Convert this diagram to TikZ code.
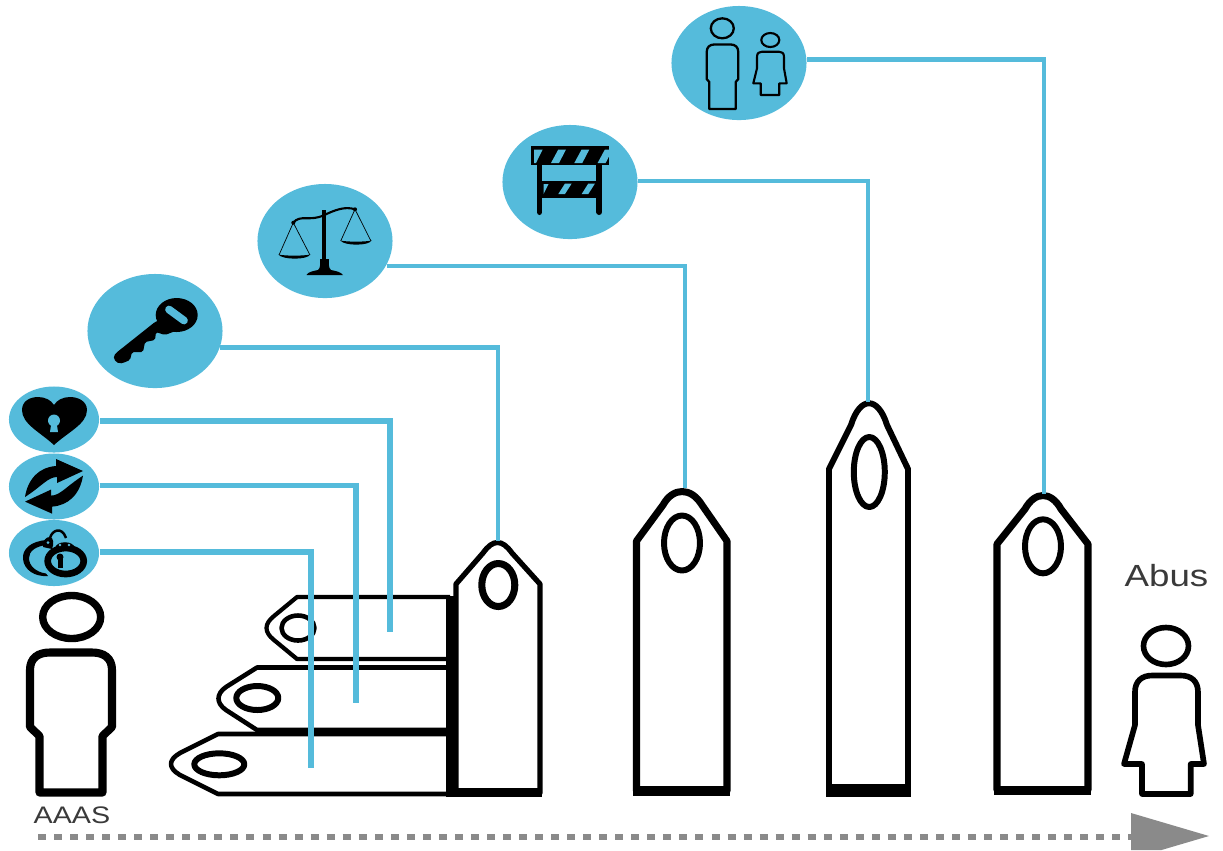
\documentclass[tikz,border=0pt]{standalone}
\usepackage{fontspec}
\setmainfont{Liberation Sans}[FakeStretch=1.2]
\definecolor{blob}{HTML}{55BBDB}
\definecolor{ashen}{HTML}{8A8A8A}
\definecolor{inklabel}{HTML}{3A3A3A}
\usetikzlibrary{shapes.geometric}
\tikzset{
  iconblob/.style={ellipse, fill=blob, inner sep=0pt, minimum width=1.35cm, minimum height=1.14cm},
  smallblob/.style={ellipse, fill=blob, inner sep=0pt, minimum width=0.9cm, minimum height=0.66cm},
  link/.style={draw=blob, line width=1.25pt},
  tagline/.style={draw=black, line width=#1, line join=round},
  tagline/.default=1.7pt,
}

\begin{document}
\begin{tikzpicture}[x=0.01cm, y=-0.01cm]
\useasboundingbox (0,0) rectangle (1223,850);

% Lying tags
\draw[tagline=1.2pt] (450,597) -- (297,597) -- (274,616) .. controls (264,624) and (264,632) .. (274,640) -- (297,659) -- (450,659);
\draw[tagline=1.3pt] (298,628) circle [x radius=16.5, y radius=12.5];
\draw[tagline=1.3pt] (450,667.5) -- (257,667.5) -- (226,687) .. controls (216,694) and (216,703) .. (226,710) -- (257,730) -- (450,730);
\draw[tagline=1.7pt] (257.3,698) circle [x radius=21, y radius=12];
\draw[tagline=1.3pt] (450,734) -- (218,734) -- (180,753) .. controls (168,760) and (168,768) .. (180,775) -- (218,794) -- (450,794);
\draw[tagline=1.7pt] (219.3,764.3) circle [x radius=25, y radius=11];
\fill (446,596) rectangle (457,797);

% Standing tags
\draw[tagline=1.5pt] (456,793) -- (456,584) -- (483,553) .. controls (493,539) and (502,539) .. (512,553) -- (540,584) -- (540,793) -- cycle;
\fill (453,788) rectangle (542,797);
\draw[tagline=2pt] (498.3,585) circle [x radius=16.5, y radius=21.5];

\draw[tagline=2pt] (636.5,791) -- (636.5,541) -- (663,505) .. controls (673,487) and (691,487) .. (702,505) -- (727,541) -- (727,791) -- cycle;
\fill (633,786) rectangle (730,796);
\draw[tagline=1.7pt] (682,543) circle [x radius=18, y radius=27.5];

\draw[tagline=1.7pt] (829,790) -- (829,469) -- (851,425) .. controls (860,396) and (878,396) .. (887,425) -- (908,469) -- (908,790) -- cycle;
\fill (826,784) rectangle (911,797);
\draw[tagline=1.7pt] (869.3,472) circle [x radius=15.5, y radius=35];

\draw[tagline=2pt] (997,790) -- (997,544) -- (1025,509) .. controls (1035,491) and (1051,491) .. (1061,509) -- (1088,544) -- (1088,790) -- cycle;
\fill (994,786) rectangle (1091,795);
\draw[tagline=1.7pt] (1043,546.3) circle [x radius=18, y radius=27];

% Blue blobs
\node[smallblob] (heartblob) at (54,419.5) {};
\node[smallblob] (swapblob) at (54,486.5) {};
\node[smallblob] (cuffblob) at (54,553) {};
\node[iconblob] (keyblob) at (155,331) {};
\node[iconblob] (scaleblob) at (325,241) {};
\node[iconblob] (fenceblob) at (570,182) {};
\node[iconblob] (coupleblob) at (739,63) {};

% Connector ends
\coordinate (tagheart) at (390,632);
\coordinate (tagswap) at (356,703);
\coordinate (tagcuff) at (311,768);
\coordinate (tagkey) at (498,541);
\coordinate (tagscale) at (685,488);
\coordinate (tagfence) at (868,402);
\coordinate (tagcouple) at (1044,494);

\draw[link, line width=1.5pt] (heartblob.-2.5) -| (tagheart);
\draw[link, line width=1.5pt] (swapblob.1.3) -| (tagswap);
\draw[link, line width=1.6pt] (cuffblob.1) -| (tagcuff);
\draw[link] (keyblob.-14.7) -| (tagkey);
\draw[link] (scaleblob.-22.3) -| (tagscale);
\draw[link] (fenceblob.1.7) -| (tagfence);
\draw[link] (coupleblob.3.4) -| (tagcouple);

% Heart
\fill (54,445) .. controls (40,432) and (22,424) .. (22,410) .. controls (22,401) and (30,397) .. (38,397) .. controls (45,397) and (51,400) .. (54,405)
  .. controls (57,400) and (63,397) .. (70,397) .. controls (78,397) and (87,401) .. (87,410) .. controls (87,424) and (68,432) .. (54,445) -- cycle;
\fill[blob] (54,420.5) circle (6);
\fill[blob] (51.5,422) -- (56.5,422) -- (58,432) -- (50,432) -- cycle;

% Swap arrows
\fill (25,497) .. controls (28,478) and (40,467) .. (56,466) -- (56,459) -- (83,471) -- (57,483) -- (57,477) .. controls (48,477) and (42,486) .. (25,497) -- cycle;
\fill[rotate around={180:(54,486.3)}] (25,497) .. controls (28,478) and (40,467) .. (56,466) -- (56,459) -- (83,471) -- (57,483) -- (57,477) .. controls (48,477) and (42,486) .. (25,497) -- cycle;

% Handcuffs
\fill (47,540) .. controls (31,541) and (22,549) .. (23,559) .. controls (24,570) and (35,577) .. (48,576) -- (46,573.5) .. controls (36,572) and (29,566) .. (29,558) .. controls (29,551) and (36,546) .. (47,545) -- cycle;
\draw[line width=1.9pt] (65.7,561) circle [x radius=18, y radius=13];
\draw[line width=0.7pt] (50,538) .. controls (52,530) and (62,526) .. (66,538);
\fill (43,547) .. controls (43,540) and (46,537) .. (50,537) .. controls (54,538) and (54,544) .. (52,549) -- cycle;
\fill (55,549) .. controls (55,540) and (75,540) .. (75,549) -- cycle;
\fill[blob] (48,542.5) circle (1.5);
\fill[blob] (60,545) circle (1.3);
\fill[blob] (69,545) circle (1.3);
\fill (60,557) circle [x radius=3.5, y radius=3.5];
\fill (57.5,557) rectangle (62.5,568);

% Key
\fill[rounded corners=0.5pt] (155,322) -- (116,353) .. controls (112,358) and (116,364) .. (123,363) -- (130,360) -- (132,352) -- (143,352) -- (145,342) -- (155,340) -- (156,332) -- (165,335) -- (178,330) -- (178,312) -- cycle;
\fill (176.7,315) circle [x radius=21, y radius=17];
\draw[blob, line width=2.2pt, line cap=round] (169,309.5) -- (184,320.5);

% Scales
\draw[line width=1.1pt] (324.3,210) -- (324.3,263);
\fill (318,270) .. controls (321,268) and (320,262) .. (320,259) -- (329,259) .. controls (329,262) and (328,268) .. (331,270) .. controls (336,271) and (341,272) .. (343,275) -- (306.5,275) .. controls (308,272) and (313,271) .. (318,270) -- cycle;
\draw[line width=0.6pt] (293.3,222.7) .. controls (300,214) and (310,222) .. (324.3,215) .. controls (335,210) and (345,206) .. (355,209.3);
\fill (293.3,222.7) circle (2);
\fill (355,209.3) circle (2);
\draw[line width=0.2pt] (279,255) -- (293.3,222.7) -- (310,255);
\draw[line width=0.2pt] (340.7,241) -- (355,209.3) -- (371,241);
\fill (278.5,254.5) .. controls (285,256) and (304,256) .. (310,254.5) .. controls (308,260) and (282,260) .. (278.5,254.5) -- cycle;
\fill (340.5,240.5) .. controls (347,242) and (365,242) .. (371.5,240.5) .. controls (369,246) and (344,246) .. (340.5,240.5) -- cycle;

% Barrier
\fill (530.7,146) rectangle (609.3,165);
\fill (541,180.5) rectangle (598,197.5);
\draw[line width=1.7pt, line cap=round] (539.5,160) -- (539.5,212);
\draw[line width=1.7pt, line cap=round] (599.3,160) -- (599.3,212);
\fill[blob] (534,149.5) -- (542.7,149.5) -- (536,163) -- (534,163) -- cycle;
\foreach \shift in {0,23.3,46.6} {
  \fill[blob] (551+\shift,163) -- (558.3+\shift,149.5) -- (566+\shift,149.5) -- (559+\shift,163) -- cycle;
}
\fill[blob] (543.5,194) -- (548.5,184) -- (543.5,184) -- cycle;
\fill[blob] (558.3,194) -- (565,183.5) -- (571.7,183.5) -- (565,194) -- cycle;
\fill[blob] (581.7,194) -- (588.3,183.5) -- (595,183.5) -- (588.3,194) -- cycle;

% Couple in the top blob
\draw[line width=0.65pt] (722.3,28.3) circle [x radius=11.5, y radius=10];
\draw[line width=0.65pt, line join=round] (709.3,109) -- (709.3,82) -- (706.7,79) -- (706.7,52) .. controls (706.7,47) and (710,44.5) .. (714,44.5) -- (731,44.5) .. controls (735,44.5) and (738.3,47) .. (738.3,52) -- (738.3,79) -- (735.7,82) -- (735.7,109) -- cycle;
\draw[line width=0.6pt] (770.3,40) circle [x radius=9, y radius=7];
\draw[line width=0.6pt, line join=round] (760.7,95) -- (760.7,83.3) -- (753.3,83.3) -- (757,68.3) -- (757,57) .. controls (757,53) and (759,51.7) .. (762,51.7) -- (779,51.7) .. controls (782,51.7) and (784,53) .. (784,57) -- (784,68.3) -- (786.7,83.3) -- (779.3,83.3) -- (779.3,95) -- cycle;

% Man on the left
\draw[line width=2.1pt] (71.7,617) circle [x radius=29, y radius=21.5];
\draw[line width=2.3pt, line join=round] (39.5,792.5) -- (39.5,736) -- (30,727) -- (30,670) .. controls (30,658) and (38,652.5) .. (50,652.5) -- (92,652.5) .. controls (104,652.5) and (112,658) .. (112,670) -- (112,727) -- (102.5,736) -- (102.5,792.5) -- cycle;
\node[font=\fontsize{6.8pt}{8pt}\selectfont, text=inklabel, inner sep=0pt] (victimlabel) at (72,815.5) {AAAS};

% Woman on the right
\draw[line width=1.6pt] (1166,646) circle [x radius=22.5, y radius=18.5];
\draw[line width=1.6pt, line join=round] (1142,794) -- (1142,764) -- (1124,764) -- (1135,725) -- (1135,692) .. controls (1135,681) and (1142,675.5) .. (1152,675.5) -- (1181,675.5) .. controls (1191,675.5) and (1198,681) .. (1198,692) -- (1198,725) -- (1204,764) -- (1190.7,764) -- (1190.7,794) -- cycle;
\node[font=\fontsize{8.7pt}{10pt}\selectfont, text=inklabel, inner sep=0pt] (abuslabel) at (1166.5,576) {Abus};

% Dotted arrow along the bottom
\coordinate (timestart) at (38,837);
\coordinate (timeend) at (1131,837);
\draw[ashen, line width=1.7pt, dash pattern=on 2.28pt off 2.28pt] (timestart) -- (timeend);
\fill[ashen] (1131,813) -- (1209,836) -- (1161.5,850) -- (1131,850) -- cycle;
\end{tikzpicture}
\end{document}
